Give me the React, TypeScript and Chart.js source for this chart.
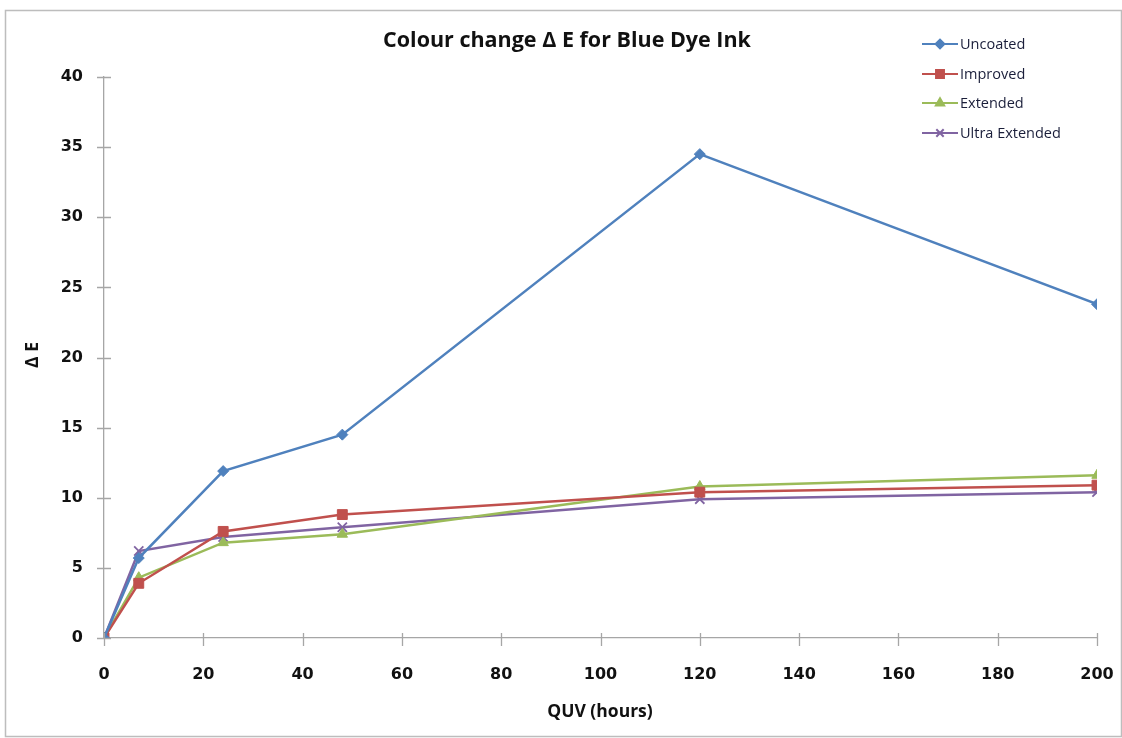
import React, { useEffect, useRef } from "react";
import { Chart, registerables } from "chart.js";
import { drawPoint } from "chart.js/helpers";

Chart.register(...registerables);

// QUV exposure time (hours) and colour change ΔE per coating
const hours = [0, 7, 24, 48, 120, 200];
const uncoated = [0, 5.7, 11.9, 14.5, 34.5, 23.8];
const improved = [0, 3.9, 7.6, 8.8, 10.4, 10.9];
const extended = [0, 4.3, 6.8, 7.4, 10.8, 11.6];
const ultraExtended = [0, 6.2, 7.2, 7.9, 9.9, 10.4];

const seriesNames = ["Uncoated", "Improved", "Extended", "Ultra Extended"];
const seriesColors = ["#4F81BD", "#C0504D", "#9BBB59", "#8064A2"];
const seriesMarkers = ["rectRot", "rect", "triangle", "crossRot"];
const markerRadius = [5.5, 7, 6, 6.5];

const chartTitle = "Colour change \u0394 E for Blue Dye Ink";
const xAxisTitle = "QUV (hours)";
const yAxisTitle = "\u0394 E";

const X_MIN = 0, X_MAX = 200, X_STEP = 20;
const Y_MIN = 0, Y_MAX = 40, Y_STEP = 5;

const tickFont = { family: "'DejaVu Sans', Verdana, sans-serif", size: 16, weight: "bold" as const };

const decorPlugin = {
  id: "decor",
  beforeDraw(chart: any) {
    const { ctx, width, height } = chart;
    ctx.save();
    ctx.fillStyle = "#ffffff";
    ctx.fillRect(0, 0, width, height);
    ctx.strokeStyle = "#BDBDBD";
    ctx.lineWidth = 1.5;
    ctx.strokeRect(5.5, 10.5, width - 6, height - 12);
    ctx.restore();
  },
  afterDraw(chart: any) {
    const { ctx, chartArea } = chart;
    const xs = chart.scales.x;
    const ys = chart.scales.y;
    ctx.save();
    // tick marks crossing both axes
    ctx.strokeStyle = "#A6A6A6";
    ctx.lineWidth = 1.3;
    ctx.beginPath();
    for (let v = X_MIN; v <= X_MAX; v += X_STEP) {
      const px = Math.round(xs.getPixelForValue(v)) + 0.5;
      ctx.moveTo(px, chartArea.bottom - 5);
      ctx.lineTo(px, chartArea.bottom + 8);
    }
    for (let v = Y_MIN; v <= Y_MAX; v += Y_STEP) {
      const py = Math.round(ys.getPixelForValue(v)) + 0.5;
      ctx.moveTo(chartArea.left - 7, py);
      ctx.lineTo(chartArea.left + 7, py);
    }
    ctx.stroke();

    // chart title
    ctx.fillStyle = "#111111";
    ctx.textAlign = "center";
    ctx.textBaseline = "middle";
    ctx.font = "bold 21.5px 'Open Sans', sans-serif";
    ctx.fillText(chartTitle, 567, 41);

    // axis titles
    ctx.font = "bold 17.5px 'Open Sans', sans-serif";
    ctx.fillText(xAxisTitle, 600, 712);
    ctx.save();
    ctx.translate(33, 355);
    ctx.rotate(-Math.PI / 2);
    ctx.fillText(yAxisTitle, 0, 0);
    ctx.restore();

    // legend
    ctx.font = "14.5px 'Open Sans', sans-serif";
    ctx.textAlign = "left";
    const rowY = [44, 74, 103, 133];
    seriesNames.forEach((name, i) => {
      const y = rowY[i];
      ctx.strokeStyle = seriesColors[i];
      ctx.fillStyle = seriesColors[i];
      ctx.lineWidth = 2;
      ctx.beginPath();
      ctx.moveTo(922, y);
      ctx.lineTo(958, y);
      ctx.stroke();
      drawPoint(ctx, { pointStyle: seriesMarkers[i], radius: markerRadius[i] * 0.8, rotation: 0, borderWidth: 1.5 } as any, 940, y);
      ctx.fillStyle = "#1A1E3A";
      ctx.fillText(name, 960, y + 1);
    });
    ctx.restore();
  },
};

export default function App() {
  const canvasRef = useRef<HTMLCanvasElement | null>(null);

  useEffect(() => {
    document.body.style.margin = "0";
    const canvas = canvasRef.current;
    if (!canvas) return;
    const seriesValues = [uncoated, improved, extended, ultraExtended];
    const chart = new Chart(canvas, {
      type: "line",
      data: {
        datasets: seriesValues.map((vals, i) => ({
          label: seriesNames[i],
          data: hours.map((h, j) => ({ x: h, y: vals[j] })),
          borderColor: seriesColors[i],
          backgroundColor: seriesColors[i],
          borderWidth: 2.5,
          pointStyle: seriesMarkers[i] as any,
          pointRadius: markerRadius[i],
          pointBorderWidth: seriesMarkers[i] === "crossRot" ? 1.8 : 1,
          tension: 0,
          fill: false,
        })),
      },
      options: {
        responsive: false,
        animation: false,
        layout: { padding: { top: 77, right: 25, left: 0, bottom: 0 } },
        plugins: {
          legend: { display: false },
          title: { display: false },
          tooltip: { enabled: false },
        },
        scales: {
          x: {
            type: "linear",
            min: X_MIN,
            max: X_MAX,
            afterFit: (s: any) => { s.height = 100; },
            ticks: { stepSize: X_STEP, padding: 7, color: "#111111", font: tickFont, maxRotation: 0 },
            grid: { display: false, drawTicks: true, tickLength: 20 },
            border: { display: true, color: "#A6A6A6", width: 1.3 },
          },
          y: {
            type: "linear",
            min: Y_MIN,
            max: Y_MAX,
            afterFit: (s: any) => { s.width = 104; },
            ticks: { stepSize: Y_STEP, padding: 21, color: "#111111", font: tickFont },
            grid: { display: false, drawTicks: false },
            border: { display: true, color: "#A6A6A6", width: 1.3 },
          },
        },
      },
      plugins: [decorPlugin],
    });
    return () => chart.destroy();
  }, []);

  return (
    <div style={{ width: 1122, height: 738 }}>
      <canvas ref={canvasRef} width={1122} height={738} />
    </div>
  );
}
